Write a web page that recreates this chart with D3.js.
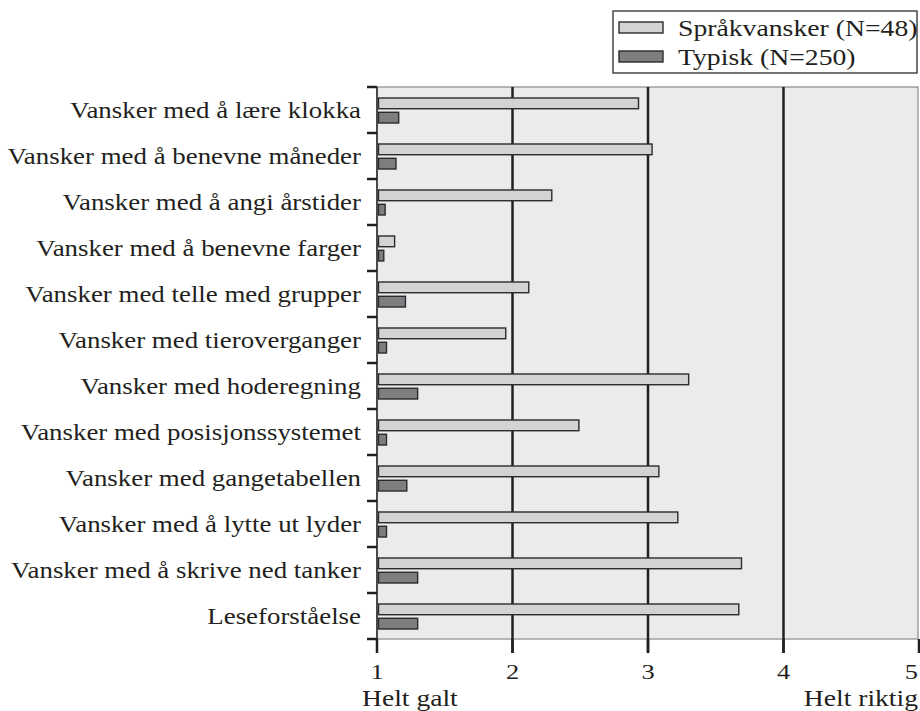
<!DOCTYPE html>
<html>
<head>
<meta charset="utf-8">
<script src="https://cdn.jsdelivr.net/npm/d3@7"></script>
<style>
    body { margin: 0; background: #fff; }
    text { font-family: "Liberation Serif", "Times New Roman", serif; fill: #231f20; }
</style>
</head>
<body>
<svg id="chart" width="920" height="711"></svg>
<script>
'use strict';

var categories = [
    "Vansker med å lære klokka",
    "Vansker med å benevne måneder",
    "Vansker med å angi årstider",
    "Vansker med å benevne farger",
    "Vansker med telle med grupper",
    "Vansker med tieroverganger",
    "Vansker med hoderegning",
    "Vansker med posisjonssystemet",
    "Vansker med gangetabellen",
    "Vansker med å lytte ut lyder",
    "Vansker med å skrive ned tanker",
    "Leseforståelse"
]
var seriesNames = ["Språkvansker (N=48)", "Typisk (N=250)"]
var sprakvansker = [2.93, 3.03, 2.29, 1.13, 2.12, 1.95, 3.30, 2.49, 3.08, 3.22, 3.69, 3.67]
var typisk = [1.16, 1.14, 1.06, 1.05, 1.21, 1.07, 1.30, 1.07, 1.22, 1.07, 1.30, 1.30]
var xTicks = [1, 2, 3, 4, 5]
var xEndLabels = ["Helt galt", "Helt riktig"]

var barChart = (function() {
    var svg = d3.select("#chart")
    var fills = ["#d2d3d5", "#7d7e80"]
    // the source typeface is set a bit wide, so stretch the text horizontally
    var fontSize = "24px"
    var labelStretch = 1.12
    var textStretch = 1.155

    var x = d3.scaleLinear().domain([1, 5]).range([377, 919])
    var y = d3.scaleBand().domain(categories).range([87, 639]).padding(0)
    var inner = d3.scaleBand().domain(seriesNames).range([11, 36]).paddingInner(0.25)

    function place(px, py, k) {
        return "translate(" + px + "," + py + ") scale(" + k + ",1)"
    }

    function drawPlotArea() {
        svg.append("rect")
            .attr("x", x(1))
            .attr("y", 87)
            .attr("width", 918 - x(1))
            .attr("height", 639 - 87)
            .attr("fill", "#ebebed")
            .attr("stroke", "#8a8a8c")
            .attr("stroke-width", 1.2)

        // vertical grid lines at 2, 3, 4
        svg.append("g")
            .selectAll("line")
            .data(xTicks.slice(1, 4))
            .enter().append("line")
            .attr("x1", function(d) { return x(d); })
            .attr("x2", function(d) { return x(d); })
            .attr("y1", 87)
            .attr("y2", 653)
            .attr("stroke", "#231f20")
            .attr("stroke-width", 2.5)
    }

    function drawBars() {
        var values = [sprakvansker, typisk]
        var groups = svg.append("g").attr("class", "bars")
            .selectAll("g")
            .data(categories)
            .enter().append("g")
            .attr("transform", function(d) { return "translate(0," + y(d) + ")"; })

        groups.selectAll("rect")
            .data(function(d, i) {
                return seriesNames.map(function(s, j) { return { series: s, value: values[j][i], idx: j }; });
            })
            .enter().append("rect")
            .attr("x", x(1) + 1.5)
            .attr("y", function(d) { return inner(d.series); })
            .attr("width", function(d) { return x(d.value) - x(1) - 1.5; })
            .attr("height", inner.bandwidth())
            .attr("fill", function(d) { return fills[d.idx]; })
            .attr("stroke", "#2b2b2d")
            .attr("stroke-width", 1.4)
    }

    function drawAxes() {
        // left axis line
        svg.append("line")
            .attr("x1", x(1)).attr("x2", x(1))
            .attr("y1", 87).attr("y2", 653)
            .attr("stroke", "#4a4a4c")
            .attr("stroke-width", 2)

        var bounds = categories.map(function(c) { return y(c); }).concat([y.range()[1]])
        svg.append("g")
            .selectAll("line")
            .data(bounds)
            .enter().append("line")
            .attr("x1", 367).attr("x2", x(1))
            .attr("y1", function(d) { return d; })
            .attr("y2", function(d) { return d; })
            .attr("stroke", "#231f20")
            .attr("stroke-width", 2.5)

        svg.append("g")
            .selectAll("text")
            .data(categories)
            .enter().append("text")
            .attr("transform", function(d) { return place(361, y(d) + y.bandwidth() / 2, labelStretch); })
            .attr("dy", "0.33em")
            .attr("text-anchor", "end")
            .style("font-size", fontSize)
            .text(function(d) { return d; })

        // bottom ticks
        svg.append("g")
            .selectAll("line")
            .data(xTicks)
            .enter().append("line")
            .attr("x1", function(d) { return x(d); })
            .attr("x2", function(d) { return x(d); })
            .attr("y1", 639).attr("y2", 653)
            .attr("stroke", "#231f20")
            .attr("stroke-width", 2.5)

        svg.append("g")
            .selectAll("text")
            .data(xTicks)
            .enter().append("text")
            .attr("transform", function(d) { return place(d === 5 ? 918 : x(d), 679, 1.2); })
            .attr("text-anchor", function(d) { return d === 5 ? "end" : "middle"; })
            .style("font-size", "22px")
            .text(function(d) { return d; })

        svg.append("text")
            .attr("transform", place(362, 706, 1.2))
            .style("font-size", "23px")
            .text(xEndLabels[0])
        svg.append("text")
            .attr("transform", place(918, 706, 1.2))
            .attr("text-anchor", "end")
            .style("font-size", "23px")
            .text(xEndLabels[1])
    }

    function drawLegend() {
        var legend = svg.append("g").attr("class", "legend")
        legend.append("rect")
            .attr("x", 613).attr("y", 11)
            .attr("width", 304).attr("height", 62)
            .attr("fill", "#fff")
            .attr("stroke", "#3a3a3c")
            .attr("stroke-width", 1.4)

        var items = legend.selectAll("g.item")
            .data(seriesNames)
            .enter().append("g")
            .attr("class", "item")
            .attr("transform", function(d, i) { return "translate(619," + (22 + i * 29) + ")"; })

        items.append("rect")
            .attr("width", 44).attr("height", 11)
            .attr("fill", function(d, i) { return fills[i]; })
            .attr("stroke", "#2b2b2d")
            .attr("stroke-width", 1.4)

        items.append("text")
            .attr("transform", place(59, 6, textStretch))
            .attr("dy", "0.33em")
            .style("font-size", fontSize)
            .text(function(d) { return d; })
    }

    return {
        render: function() {
            drawPlotArea()
            drawBars()
            drawAxes()
            drawLegend()
        }
    }
}())

barChart.render()
</script>
</body>
</html>
